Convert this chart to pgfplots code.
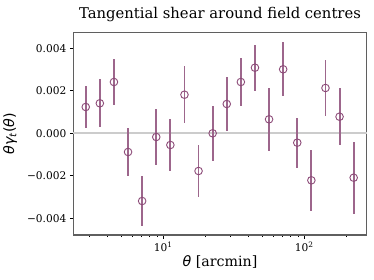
\documentclass[border=0pt]{standalone}
\usepackage{fontspec}
\setmainfont{DejaVu Serif}
\newfontfamily\dvs{DejaVu Sans}
\usepackage{pgfplots}
\pgfplotsset{compat=1.18}
\usepackage{pgfplotstable}
\definecolor{pc}{RGB}{140,75,120}
\definecolor{fr}{RGB}{95,95,95}
\pgfplotstableread{
x y e
2.818 0.001238 0.00100
3.548 0.001412 0.00112
4.467 0.002414 0.00108
5.623 -0.00088 0.00114
7.079 -0.003186 0.00118
8.913 -0.000174 0.00130
11.22 -0.00055 0.00122
14.13 0.001816 0.00133
17.78 -0.001774 0.00124
22.39 0.0 0.00129
28.18 0.001379 0.00128
35.48 0.002414 0.00112
44.67 0.003087 0.00108
56.23 0.000659 0.00147
70.79 0.003012 0.00128
89.13 -0.000442 0.00118
112.2 -0.002212 0.00143
141.3 0.002132 0.00130
177.8 0.000781 0.00135
223.9 -0.002089 0.00170
}\datatable
\begin{document}
\begin{tikzpicture}
\path[use as bounding box] (-73.3pt,-44pt) rectangle (300.7pt,235pt);
\begin{axis}[
  at={(0pt,0pt)}, anchor=south west,
  scale only axis, width=293.4pt, height=202.3pt,
  xmode=log, xmin=2.30, xmax=277,
  ymin=-0.004786, ymax=0.004734,
  axis line style={fr, line width=1.4pt},
  xtick pos=bottom, ytick pos=left,
  tick align=outside,
  tick style={black, line width=0.6pt},
  major tick length=3.5pt, minor tick length=2pt,
  xtick={10,100}, xticklabels={10\textsuperscript{1},10\textsuperscript{2}},
  minor xtick={3,4,5,6,7,8,9,20,30,40,50,60,70,80,90,200},
  ytick={-0.004,-0.002,0,0.002,0.004},
  yticklabels={−0.004,−0.002,0.000,0.002,0.004},
  scaled y ticks=false,
  ticklabel style={font=\fontsize{10.6}{12}\selectfont},
  xlabel={{\dvs\itshape θ} [arcmin]},
  ylabel={{\dvs\itshape θγ\textsubscript{t}}{\dvs(}{\dvs\itshape θ}{\dvs)}},
  label style={font=\fontsize{14.2}{16}\selectfont},
  xlabel style={yshift=3pt},
  ylabel style={yshift=3pt},
  title={Tangential shear around field centres},
  title style={font=\fontsize{14.8}{17}\selectfont, yshift=1pt},
  clip=false,
]
\addplot[gray!40, line width=1.9pt, forget plot] coordinates {(2.30,0) (277,0)};
\addplot[only marks, mark=o, mark size=3.8pt, pc, mark options={line width=0.9pt},
  error bars/.cd, y dir=both, y explicit, error mark=none,
  error bar style={line width=1.9pt, pc!85}]
  table[x=x, y=y, y error=e] {\datatable};
\end{axis}
\end{tikzpicture}
\end{document}
